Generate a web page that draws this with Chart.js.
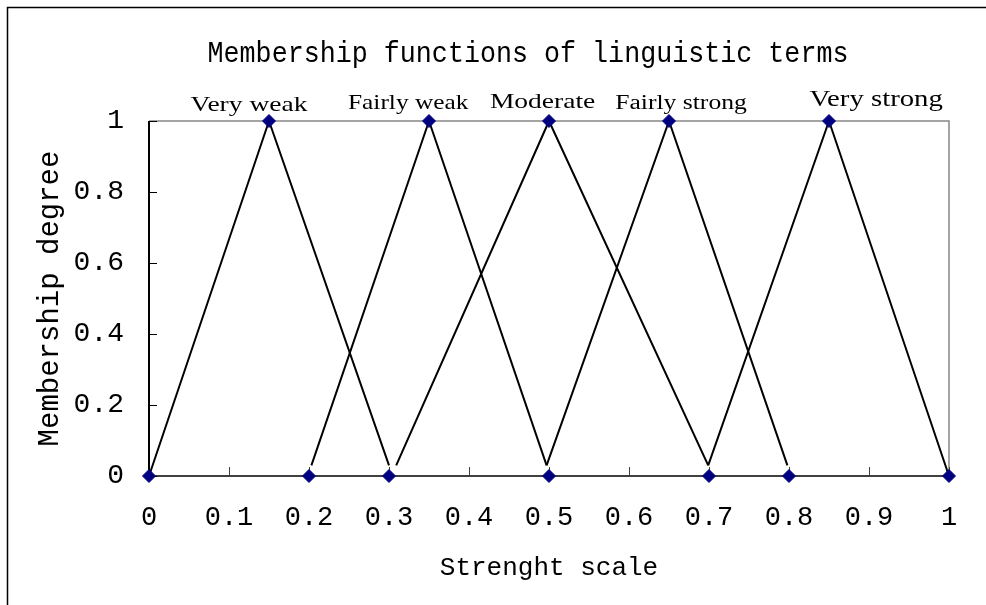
<!DOCTYPE html>
<html>
<head>
<meta charset="utf-8">
<script src="https://cdn.jsdelivr.net/npm/chart.js@4/dist/chart.umd.min.js"></script>
<style>
  html, body { margin: 0; padding: 0; background: #fff; }
  #wrap { width: 986px; height: 605px; position: relative; }
</style>
</head>
<body>
<div id="wrap"><canvas id="c" width="986" height="605"></canvas></div>
<script>
// ---- data ----
const chartTitle = 'Membership functions of linguistic terms';
const xAxisTitle = 'Strenght scale';
const yAxisTitle = 'Membership degree';
const xTickLabels = ['0', '0.1', '0.2', '0.3', '0.4', '0.5', '0.6', '0.7', '0.8', '0.9', '1'];
const yTickLabels = ['0', '0.2', '0.4', '0.6', '0.8', '1'];

const termNames = ['Very weak', 'Fairly weak', 'Moderate', 'Fairly strong', 'Very strong'];

const veryWeak     = [{x: 0,     y: 0},    {x: 0.15, y: 1}, {x: 0.300, y: 0.03}];
const fairlyWeak   = [{x: 0.203, y: 0.03}, {x: 0.35, y: 1}, {x: 0.497, y: 0.03}];
const moderate     = [{x: 0.309, y: 0.03}, {x: 0.5,  y: 1}, {x: 0.699, y: 0.03}];
const fairlyStrong = [{x: 0.497, y: 0.03}, {x: 0.65, y: 1}, {x: 0.798, y: 0.03}];
const veryStrong   = [{x: 0.699, y: 0.03}, {x: 0.85, y: 1}, {x: 1,     y: 0}];

const markerX = [0, 0.15, 0.2, 0.3, 0.35, 0.5, 0.5, 0.65, 0.7, 0.8, 0.85, 1];
const markerY = [0, 1,    0,   0,   1,    1,   0,   1,    0,   0,   1,    0];

// term label anchor positions (data units) and font sizes
const termLabelX = [0.125, 0.324, 0.492, 0.665, 0.909];
const termLabelY = [1.028, 1.034, 1.037, 1.034, 1.042];
const termLabelSize = [22, 20.3, 22, 20.5, 23];

// ---- chart ----
const lineSeries = [veryWeak, fairlyWeak, moderate, fairlyStrong, veryStrong];
const datasets = lineSeries.map((d, i) => ({
  label: termNames[i],
  data: d,
  showLine: true,
  borderColor: '#000000',
  borderWidth: 2,
  pointRadius: 0,
  pointHoverRadius: 0,
  fill: false,
  clip: false,
  order: 2
}));
datasets.push({
  label: 'points',
  data: markerX.map((x, i) => ({x: x, y: markerY[i]})),
  showLine: false,
  pointStyle: 'rectRot',
  pointRadius: 6.5,
  pointBorderWidth: 1,
  pointBackgroundColor: '#000080',
  pointBorderColor: '#000080',
  clip: false,
  order: 1
});

const decor = {
  id: 'decor',
  beforeDraw(chart) {
    const ctx = chart.ctx;
    ctx.save();
    ctx.fillStyle = '#ffffff';
    ctx.fillRect(0, 0, chart.width, chart.height);
    // outer frame
    ctx.strokeStyle = '#000000';
    ctx.lineWidth = 1.5;
    ctx.beginPath();
    ctx.moveTo(7.5, chart.height + 2);
    ctx.lineTo(7.5, 7.5);
    ctx.lineTo(chart.width + 2, 7.5);
    ctx.stroke();
    ctx.restore();
  },
  beforeDatasetsDraw(chart) {
    const ctx = chart.ctx;
    const a = chart.chartArea;
    const xs = chart.scales.x, ys = chart.scales.y;
    ctx.save();
    // top & right border (gray)
    ctx.strokeStyle = '#868686';
    ctx.lineWidth = 1.5;
    ctx.beginPath();
    ctx.moveTo(a.left, a.top);
    ctx.lineTo(a.right, a.top);
    ctx.lineTo(a.right, a.bottom);
    ctx.stroke();
    // x axis line
    ctx.strokeStyle = '#404040';
    ctx.lineWidth = 2;
    ctx.beginPath();
    ctx.moveTo(a.left, a.bottom);
    ctx.lineTo(a.right, a.bottom);
    ctx.stroke();
    // x ticks (inward)
    ctx.lineWidth = 1;
    xs.ticks.forEach(t => {
      const px = Math.round(xs.getPixelForValue(t.value)) + 0.5;
      ctx.beginPath();
      ctx.moveTo(px, a.bottom);
      ctx.lineTo(px, a.bottom - 9);
      ctx.stroke();
    });
    // y axis line
    ctx.strokeStyle = '#000000';
    ctx.lineWidth = 2;
    ctx.beginPath();
    ctx.moveTo(a.left, a.top);
    ctx.lineTo(a.left, a.bottom);
    ctx.stroke();
    ctx.lineWidth = 1;
    ys.ticks.forEach(t => {
      const py = Math.round(ys.getPixelForValue(t.value)) + 0.5;
      ctx.beginPath();
      ctx.moveTo(a.left, py);
      ctx.lineTo(a.left + 8, py);
      ctx.stroke();
    });
    ctx.restore();
  },
  afterDraw(chart) {
    const ctx = chart.ctx;
    const xs = chart.scales.x, ys = chart.scales.y;
    ctx.save();
    // title
    ctx.fillStyle = '#000000';
    ctx.save();
    ctx.translate(528, 62);
    ctx.scale(0.89, 1);
    ctx.font = '30px "Liberation Mono", monospace';
    ctx.textAlign = 'center';
    ctx.textBaseline = 'alphabetic';
    ctx.fillText(chartTitle, 0, 0);
    ctx.restore();
    // term labels
    termNames.forEach((name, i) => {
      const px = xs.getPixelForValue(termLabelX[i]);
      const py = ys.getPixelForValue(termLabelY[i]);
      ctx.save();
      ctx.translate(px, py);
      ctx.scale(1.25, 1);
      ctx.font = termLabelSize[i] + 'px "Liberation Serif", "Times New Roman", serif';
      ctx.textAlign = 'center';
      ctx.textBaseline = 'alphabetic';
      ctx.fillText(name, 0, 0);
      ctx.restore();
    });
    ctx.restore();
  }
};

new Chart(document.getElementById('c'), {
  type: 'scatter',
  data: { datasets: datasets },
  plugins: [decor],
  options: {
    responsive: false,
    animation: false,
    devicePixelRatio: 1,
    layout: { padding: { left: 0, top: 121, right: 37, bottom: 0 } },
    plugins: {
      legend: { display: false },
      title: { display: false },
      tooltip: { enabled: false }
    },
    scales: {
      x: {
        type: 'linear',
        min: 0, max: 1,
        border: { display: false },
        grid: { display: false, drawTicks: false },
        ticks: {
          stepSize: 0.1,
          padding: 26,
          color: '#000000',
          maxRotation: 0,
          autoSkip: false,
          font: { family: '"Liberation Mono", monospace', size: 27 },
          callback: (v, i) => xTickLabels[i]
        },
        title: {
          display: true,
          text: xAxisTitle,
          color: '#000000',
          font: { family: '"Liberation Mono", monospace', size: 26 },
          padding: { top: 0, bottom: 21 }
        },
        afterFit: s => { s.height = 129; }
      },
      y: {
        type: 'linear',
        min: 0, max: 1,
        border: { display: false },
        grid: { display: false, drawTicks: false },
        ticks: {
          stepSize: 0.2,
          padding: 25,
          color: '#000000',
          font: { family: '"Liberation Mono", monospace', size: 28 },
          callback: (v, i) => yTickLabels[i]
        },
        title: {
          display: true,
          text: yAxisTitle,
          color: '#000000',
          font: { family: '"Liberation Mono", monospace', size: 29 },
          padding: { top: 33, bottom: 0 }
        },
        afterFit: s => { s.width = 149; }
      }
    }
  }
});
</script>
</body>
</html>
